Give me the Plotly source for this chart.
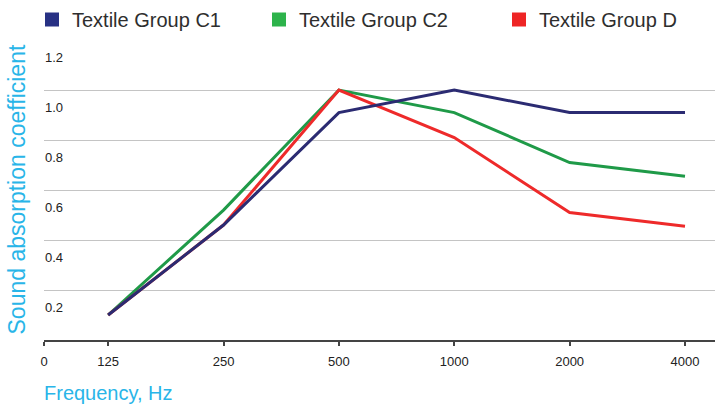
import plotly.graph_objects as go

# ---- data ----
freq_labels = ["125", "250", "500", "1000", "2000", "4000"]
c1_values = [0.10, 0.46, 0.91, 1.00, 0.91, 0.91]
c2_values = [0.10, 0.52, 1.00, 0.91, 0.71, 0.655]
d_values = [0.10, 0.46, 1.00, 0.81, 0.51, 0.455]
series_names = ["Textile Group C1", "Textile Group C2", "Textile Group D"]
y_ticks = [0.2, 0.4, 0.6, 0.8, 1.0, 1.2]
y_tick_labels = ["0.2", "0.4", "0.6", "0.8", "1.0", "1.2"]

# ---- styles ----
FONT = "Liberation Sans, Arial, Helvetica, sans-serif"
line_colors = {"Textile Group C1": "#2b2b72", "Textile Group C2": "#1f9a48", "Textile Group D": "#ee2a2a"}
legend_colors = {"Textile Group C1": "#283184", "Textile Group C2": "#2db34b", "Textile Group D": "#ee2525"}
CYAN = "#29b5e8"

W, H = 715, 405
ML, MR, MT, MB = 44, 0, 40, 65
PW = W - ML - MR
PH = H - MT - MB

xpos = list(range(len(freq_labels)))
zero_pos = -0.554
x_range = [zero_pos - 0.002, 5.26]
y_range = [0, 1.2005]

fig = go.Figure()

# lines: draw order green, red, navy (navy on top)
values = {"Textile Group C1": c1_values, "Textile Group C2": c2_values, "Textile Group D": d_values}
for name in ["Textile Group C2", "Textile Group D", "Textile Group C1"]:
    fig.add_trace(go.Scatter(
        x=xpos, y=values[name], mode="lines", name=name,
        line=dict(color=line_colors[name], width=3),
        showlegend=False, hoverinfo="x+y",
    ))

# invisible trace so the label axis (y2) exists
fig.add_trace(go.Scatter(x=[None], y=[None], yaxis="y2", showlegend=False, hoverinfo="skip"))

# legend entries (square swatches), one legend each for exact placement
legend_left_px = [32, 259, 499]
legend_ids = ["legend", "legend2", "legend3"]
for name, lid in zip(series_names, legend_ids):
    fig.add_trace(go.Scatter(
        x=[None], y=[None], mode="markers", name=name,
        marker=dict(symbol="square", size=14, color=legend_colors[name]),
        showlegend=True, legend=lid,
    ))

layout_legends = {}
for lid, lx in zip(legend_ids, legend_left_px):
    layout_legends[lid] = dict(
        orientation="h", yanchor="middle", xanchor="left",
        x=(lx - ML) / PW,
        y=((H - MB) - 19.5) / PH,
        font=dict(family=FONT, size=20, color="#2e2e2e"),
        bgcolor="rgba(0,0,0,0)", borderwidth=0, itemwidth=30,
    )

fig.update_layout(
    width=W, height=H,
    margin=dict(l=ML, r=MR, t=MT, b=MB, pad=0, autoexpand=False),
    paper_bgcolor="white", plot_bgcolor="white",
    font=dict(family=FONT, size=13, color="#222222"),
    xaxis=dict(
        range=x_range,
        tickmode="array",
        tickvals=[zero_pos] + xpos,
        ticktext=["0"] + freq_labels,
        showgrid=False, zeroline=False,
        showline=True, linecolor="#444444", linewidth=2,
        ticks="outside", ticklen=4, tickwidth=1.5, tickcolor="#444444",
        tickfont=dict(family=FONT, size=13, color="#222222"),
        ticklabelstandoff=4,
        automargin=False, fixedrange=True,
    ),
    yaxis=dict(
        range=y_range,
        tickmode="array", tickvals=y_ticks,
        showticklabels=False,
        showgrid=True, gridcolor="#c4c4c4", gridwidth=1,
        zeroline=False, showline=False, ticks="",
        automargin=False, fixedrange=True,
    ),
    yaxis2=dict(
        overlaying="y", anchor="free", side="left",
        position=(63 - ML) / PW,
        range=y_range,
        tickmode="array", tickvals=y_ticks, ticktext=y_tick_labels,
        showgrid=False, zeroline=False, showline=False, ticks="",
        ticklabelshift=17, ticklabelstandoff=0,
        tickfont=dict(family=FONT, size=13, color="#222222"),
        automargin=False, fixedrange=True,
    ),
    **layout_legends,
)

# axis titles as annotations for precise placement
fig.add_annotation(
    text="Sound absorption coefficient", textangle=-90,
    xref="paper", yref="paper",
    x=(16 - ML) / PW, y=((H - MB) - 189.5) / PH,
    xanchor="center", yanchor="middle", showarrow=False,
    font=dict(family=FONT, size=23, color=CYAN),
)
fig.add_annotation(
    text="Frequency, Hz",
    xref="paper", yref="paper",
    x=(42 - ML) / PW, y=((H - MB) - 393) / PH,
    xanchor="left", yanchor="middle", showarrow=False,
    font=dict(family=FONT, size=20, color=CYAN),
)

fig.write_html(
    "out.html",
    config={"displayModeBar": False, "staticPlot": False},
    post_script="document.body.style.margin='0';document.body.style.overflow='hidden';",
)
